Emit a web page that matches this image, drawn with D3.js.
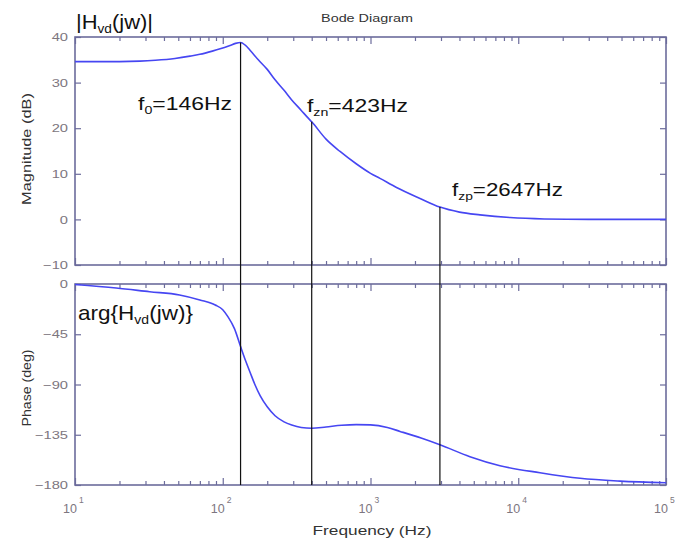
<!DOCTYPE html>
<html>
<head>
<meta charset="utf-8">
<script src="https://cdn.jsdelivr.net/npm/d3@7"></script>
<style>
  body { margin: 0; background: #fff; }
  svg { display: block; }
</style>
</head>
<body>
<div class="canvas"></div>
<script>
// magnitude readings (Hz, dB)
const magFreq = [10, 15, 20, 27.5, 35, 47.5, 60, 70, 85, 96, 112, 122, 132, 142, 153, 174, 200, 226, 260, 293, 340, 379, 400, 500, 622, 800, 1000, 1159, 1500, 2163, 2950, 4000, 5508, 8790, 15000, 30000, 100000];
const magDb   = [34.6, 34.6, 34.6, 34.7, 34.9, 35.3, 35.8, 36.2, 36.9, 37.4, 38.15, 38.6, 38.8, 38.2, 37.1, 35.0, 32.9, 30.6, 28.3, 26.2, 23.9, 22.2, 21.4, 17.6, 14.9, 12.2, 10.1, 9.0, 7.0, 4.6, 2.7, 1.6, 1.0, 0.4, 0.1, 0.0, 0.0];

// phase readings (Hz, deg)
const phaseFreq = [10, 19, 32, 51, 70, 89, 100, 108, 120, 132, 143, 153, 165, 179, 200, 226, 260, 293, 340, 400, 500, 638, 800, 1000, 1300, 1585, 2200, 2950, 4710, 7520, 14030, 26200, 48900, 100000];
const phaseDeg  = [-0.5, -3.6, -6.9, -9.8, -14.3, -18.8, -23, -29, -40, -56, -69, -79, -90, -100, -110, -118, -123.5, -126.3, -128.5, -129.2, -128, -126.5, -125.9, -126.2, -128.5, -132, -138, -144, -154.6, -162.7, -169, -174, -176.5, -178];

// vertical marker lines
const markerFreq = [132, 400, 2950];
const markerDb = [38.8, 21.4, 2.7];

// ticks
const magTicks = [-10, 0, 10, 20, 30, 40];
const phaseTicks = [0, -45, -90, -135, -180];
const decades = [10, 100, 1000, 10000, 100000];
const decadeExp = ['1', '2', '3', '4', '5'];

// chart dimensions
const dims = {width: 691, height: 544};
const plot = {left: 75, right: 666};
const magBox = {top: 37, bottom: 265};
const phBox = {top: 284, bottom: 485};

const font = '"Liberation Sans", Arial, sans-serif';
const frameColor = '#6c6c9c';
const tickColor = '#7d7680';
const curveColor = '#4646f2';

const svg = d3.select('.canvas')
  .append('svg')
  .attr('width', dims.width)
  .attr('height', dims.height)
  .style('font-family', font);

const x = d3.scaleLog().domain([10, 1e5]).range([plot.left, plot.right]);
const yMag = d3.scaleLinear().domain([-10, 40]).range([magBox.bottom, magBox.top]);
const yPh = d3.scaleLinear().domain([-180, 0]).range([phBox.bottom, phBox.top]);

// minor log ticks 2..9 in each decade
const minorTicks = [];
decades.slice(0, -1).forEach(d => {
  for (let k = 2; k <= 9; k++) minorTicks.push(d * k);
});

// horizontal stretch needed so a text reaches the width measured on the reference
const fitText = (sel, w) => w / sel.node().getComputedTextLength();

const drawPanel = (box, y, ticks) => {
  const g = svg.append('g');

  // x ticks on top and bottom, inward
  const addX = (vals, len) => {
    g.append('g')
      .attr('transform', `translate(0, ${box.bottom})`)
      .call(d3.axisBottom(x).tickValues(vals).tickSize(-len).tickFormat(''));
    g.append('g')
      .attr('transform', `translate(0, ${box.top})`)
      .call(d3.axisTop(x).tickValues(vals).tickSize(-len).tickFormat(''));
  };
  addX(minorTicks, 4);
  addX(decades, 7);

  // y ticks left (labelled) and right
  const left = g.append('g')
    .attr('transform', `translate(${plot.left}, 0)`)
    .call(d3.axisLeft(y).tickValues(ticks).tickSize(-6).tickPadding(7));
  left.selectAll('text')
    .attr('x', -7 / 1.28)
    .attr('transform', 'scale(1.28,1)')
    .style('font-size', '11.5px')
    .style('font-family', font)
    .attr('fill', tickColor);

  g.append('g')
    .attr('transform', `translate(${plot.right}, 0)`)
    .call(d3.axisRight(y).tickValues(ticks).tickSize(-6).tickFormat(''));

  g.selectAll('.domain').remove();
  g.selectAll('line').attr('stroke', frameColor).attr('stroke-width', 1.2);

  // frame
  g.append('rect')
    .attr('x', plot.left)
    .attr('y', box.top)
    .attr('width', plot.right - plot.left)
    .attr('height', box.bottom - box.top)
    .attr('fill', 'none')
    .attr('stroke', frameColor)
    .attr('stroke-width', 1.6);
};

drawPanel(magBox, yMag, magTicks);
drawPanel(phBox, yPh, phaseTicks);

// decade labels 10^n
decades.forEach((d, i) => {
  const t = svg.append('text')
    .attr('x', x(d) - 12)
    .attr('y', 513)
    .attr('fill', tickColor)
    .style('font-size', '12.5px')
    .text('10');
  t.append('tspan')
    .attr('dx', 2)
    .attr('dy', -10)
    .style('font-size', '8.5px')
    .text(decadeExp[i]);
});

// curves
const line = (ys) => d3.line()
  .x(d => x(d[0]))
  .y(d => ys(d[1]))
  .curve(d3.curveMonotoneX);

svg.append('path')
  .datum(magFreq.map((f, i) => [f, magDb[i]]))
  .attr('d', line(yMag))
  .attr('fill', 'none')
  .attr('stroke', curveColor)
  .attr('stroke-width', 1.6);

svg.append('path')
  .datum(phaseFreq.map((f, i) => [f, phaseDeg[i]]))
  .attr('d', line(yPh))
  .attr('fill', 'none')
  .attr('stroke', curveColor)
  .attr('stroke-width', 1.6);

// marker lines from the magnitude curve down to the bottom of the phase plot
svg.selectAll('.marker')
  .data(markerFreq)
  .enter()
  .append('line')
  .attr('class', 'marker')
  .attr('x1', d => x(d))
  .attr('x2', d => x(d))
  .attr('y1', (d, i) => yMag(markerDb[i]))
  .attr('y2', yPh(-180))
  .attr('stroke', '#111')
  .attr('stroke-width', 1.2);

// annotations: [x, y, size, width, parts]  (parts: [text, isSub])
const notes = [
  [76, 29, 20, 77, [['|H', 0], ['vd', 1], ['(jw)|', 0]]],
  [138, 110, 19, 94, [['f', 0], ['0', 1], ['=146Hz', 0]]],
  [307, 112, 19, 101, [['f', 0], ['zn', 1], ['=423Hz', 0]]],
  [452, 196, 19, 111, [['f', 0], ['zp', 1], ['=2647Hz', 0]]],
  [78, 320, 20, 115, [['arg{H', 0], ['vd', 1], ['(jw)}', 0]]]
];

notes.forEach(n => {
  const t = svg.append('text')
    .attr('fill', '#111')
    .style('font-size', n[2] + 'px');
  let shifted = false;
  n[4].forEach(p => {
    const ts = t.append('tspan').text(p[0]);
    if (p[1]) {
      ts.style('font-size', '0.62em').attr('dy', 4);
      shifted = true;
    } else if (shifted) {
      ts.attr('dy', -4);
      shifted = false;
    }
  });
  const sx = fitText(t, n[3]);
  t.attr('transform', `translate(${n[0]}, ${n[1]}) scale(${sx}, 1)`);
});

// titles
const label = (txt, size, w, tf, color) => {
  const t = svg.append('text')
    .attr('text-anchor', 'middle')
    .attr('fill', color)
    .style('font-size', size + 'px')
    .text(txt);
  const sx = fitText(t, w);
  t.attr('transform', `${tf} scale(${sx}, 1)`);
};

label('Bode Diagram', 11, 92, 'translate(367, 22)', '#333');
label('Frequency  (Hz)', 12.5, 119, 'translate(372, 535)', '#333');
label('Magnitude (dB)', 12.5, 112, 'translate(31, 149) rotate(-90)', '#333');
label('Phase (deg)', 12.5, 77, 'translate(31, 388) rotate(-90)', '#333');
</script>
</body>
</html>
